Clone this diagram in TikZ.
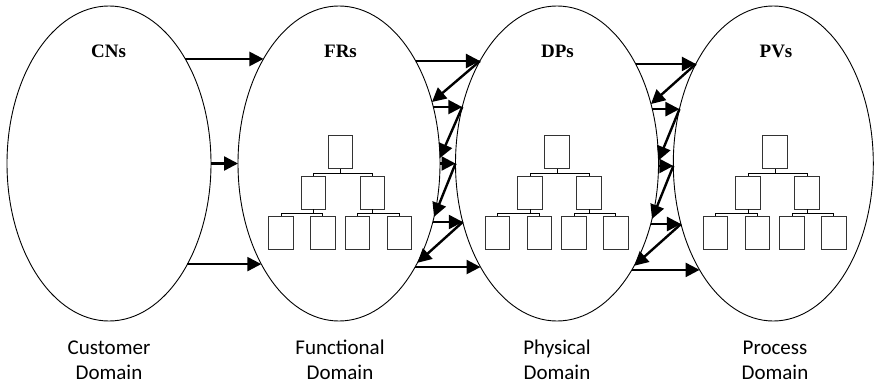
\documentclass[tikz,border=0pt]{standalone}
\usepackage{fontspec}
\setmainfont{Carlito}
\newfontfamily\labfont{Liberation Serif}
\usetikzlibrary{shapes.geometric,arrows.meta,calc}
\tikzset{
  domain/.style={ellipse, draw, line width=0.9pt, inner sep=0pt, minimum width=#1, minimum height=315pt},
  arr/.style={line width=2.4pt, -{Triangle[length=14pt,width=14pt]}},
  tbox/.style={rectangle, draw=black!80, line width=0.8pt, inner sep=0pt, minimum width=24.5pt, minimum height=32.3pt},
  tline/.style={line width=0.7pt, draw=black},
  toplab/.style={font=\labfont\bfseries\fontsize{19}{22}\selectfont, anchor=base, inner sep=0pt},
  botlab/.style={font=\fontsize{21}{25}\selectfont, align=center, anchor=south, inner sep=0pt},
  pics/tree/.style={code={
    \node[tbox] (-top) at (0,0) {};
    \node[tbox] (-m1) at (-27,-40.8) {};
    \node[tbox] (-m2) at (32,-40.8) {};
    \node[tbox] (-b1) at (-59.5,-80.8) {};
    \node[tbox] (-b2) at (-17.7,-80.8) {};
    \node[tbox] (-b3) at (17,-80.8) {};
    \node[tbox] (-b4) at (58.7,-80.8) {};
    \draw[tline] (-top.south) -- ++(0,-4.4) coordinate (-j0) -| (-m1.north);
    \draw[tline] (-j0) -| (-m2.north);
    \draw[tline] (-m1.south) -- ++(0,-3.7) coordinate (-j1) -| (-b1.north);
    \draw[tline] (-j1) -| (-b2.north);
    \draw[tline] (-m2.south) -- ++(0,-3.7) coordinate (-j2) -| (-b3.north);
    \draw[tline] (-j2) -| (-b4.north);
  }}
}
\begin{document}
\begin{tikzpicture}[x=1pt,y=1pt]
\useasboundingbox (0,0) rectangle (874,384);
% domains
\node[domain=204pt] (cn) at (109,220.5) {};
\node[domain=202pt] (fr) at (339,220.5) {};
\node[domain=203pt] (dp) at (557,220.5) {};
\node[domain=200pt] (pv) at (773.3,220.5) {};
% titles
\node[toplab] (cnt) at (108.5,327) {CNs};
\node[toplab] (frt) at (340.5,327) {FRs};
\node[toplab] (dpt) at (557.5,327) {DPs};
\node[toplab] (pvt) at (776,327) {PVs};
% domain names
\node[botlab] (cnd) at (109,4) {Customer\\Domain};
\node[botlab] (frd) at (340,4) {Functional\\Domain};
\node[botlab] (dpd) at (557,4) {Physical\\Domain};
\node[botlab] (pvd) at (775,4) {Process\\Domain};
% trees
\pic (ftree) at (340.5,232) {tree};
\pic (dtree) at (557,232) {tree};
\pic (ptree) at (775,232) {tree};
% CN -> FR
\foreach \t [count=\i] in {41.6,0,-39.7} {
  \pgfmathsetmacro\u{180-\t}
  \coordinate (ca\i) at ($(cn.center)+(\t:102pt and 157.5pt)$);
  \coordinate (fc\i) at ($(fr.center)+(\u:101pt and 157.5pt)$);
  \draw[arr] (ca\i) -- (fc\i);
}
% FR <-> DP
\foreach \t [count=\i] in {40.6,21.0,0,-21.8,-41.1} {
  \pgfmathsetmacro\u{180-\t}
  \pgfmathsetmacro\v{\t+2}
  \coordinate (fa\i) at ($(fr.center)+(\t:101pt and 157.5pt)$);
  \coordinate (fb\i) at ($(fr.center)+(\v:101pt and 157.5pt)$);
  \coordinate (da\i) at ($(dp.center)+(\u:101.5pt and 157.5pt)$);
  \draw[arr] (fa\i) -- (da\i);
}
\foreach \i/\j in {1/2,2/3,3/4,4/5} {
  \draw[arr] (da\i) -- (fb\j);
}
% DP <-> PV
\foreach \t [count=\i] in {39.2,20.2,-0.9,-22.6,-42.5} {
  \pgfmathsetmacro\u{180-\t}
  \pgfmathsetmacro\v{\t+2}
  \coordinate (db\i) at ($(dp.center)+(\t:101.5pt and 157.5pt)$);
  \coordinate (dc\i) at ($(dp.center)+(\v:101.5pt and 157.5pt)$);
  \coordinate (pa\i) at ($(pv.center)+(\u:100pt and 157.5pt)$);
  \draw[arr] (db\i) -- (pa\i);
}
\foreach \i/\j in {1/2,2/3,3/4,4/5} {
  \draw[arr] (pa\i) -- (dc\j);
}
\end{tikzpicture}
\end{document}
